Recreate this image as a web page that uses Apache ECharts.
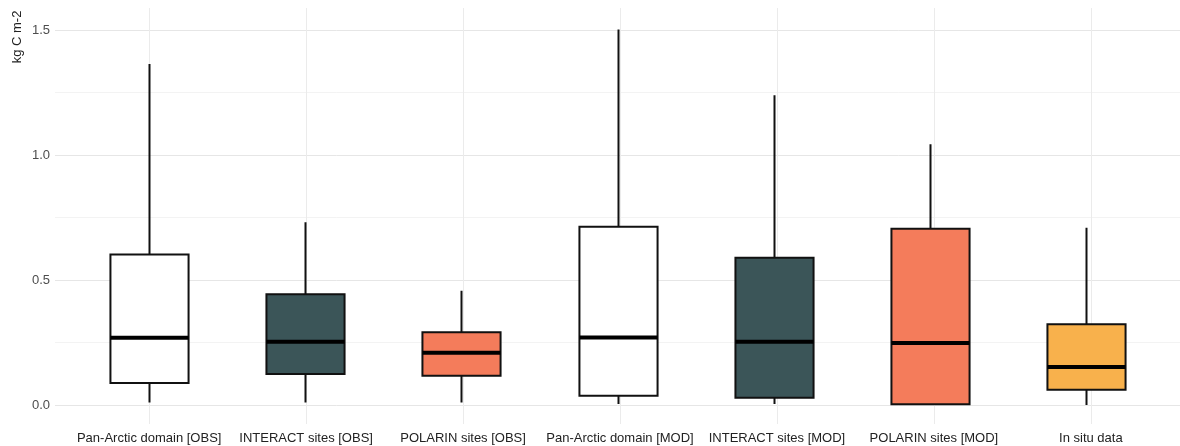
<!DOCTYPE html>
<html>
<head>
<meta charset="utf-8">
<script src="https://cdn.jsdelivr.net/npm/echarts@6/dist/echarts.min.js"></script>
<style>
  html, body { margin: 0; padding: 0; background: #fff; }
  #chart { width: 1180px; height: 446px; }
</style>
</head>
<body>
<div id="chart"></div>
<script>
// categories and box statistics (kg C m-2)
const categories = [
    'Pan-Arctic domain [OBS]',
    'INTERACT sites [OBS]',
    'POLARIN sites [OBS]',
    'Pan-Arctic domain [MOD]',
    'INTERACT sites [MOD]',
    'POLARIN sites [MOD]',
    'In situ data'
];
const mins    = [0.01, 0.01, 0.01, 0.004, 0.004, 0.0, 0.0];
const q1s     = [0.088, 0.124, 0.117, 0.037, 0.029, 0.003, 0.061];
const medians = [0.269, 0.253, 0.209, 0.27, 0.253, 0.248, 0.152];
const q3s     = [0.602, 0.443, 0.291, 0.713, 0.589, 0.705, 0.323];
const maxs    = [1.364, 0.731, 0.457, 1.502, 1.239, 1.043, 0.709];
const yTicks  = [0, 0.25, 0.5, 0.75, 1.0, 1.25, 1.5];

// fill colours per box
const fills = ['#ffffff', '#3b5558', '#f47c5b', '#ffffff', '#3b5558', '#f47c5b', '#f8b14c'];

const chart = echarts.init(document.getElementById('chart'));

const boxData = categories.map((c, i) => [i, mins[i], q1s[i], medians[i], q3s[i], maxs[i]]);

// 箱线图：须线无端帽，中位线加粗
function renderBox(params, api) {
    const i = api.value(0);
    const lo = api.coord([i, api.value(1)]);
    const q1 = api.coord([i, api.value(2)]);
    const md = api.coord([i, api.value(3)]);
    const q3 = api.coord([i, api.value(4)]);
    const hi = api.coord([i, api.value(5)]);
    const w = api.size([1, 0])[0] * 0.5;
    const x = Math.round(q1[0]) + 0.5;
    const stroke = '#111';
    return {
        type: 'group',
        children: [
            { type: 'line', shape: { x1: x, y1: hi[1], x2: x, y2: q3[1] }, style: { stroke: stroke, lineWidth: 2 } },
            { type: 'line', shape: { x1: x, y1: q1[1], x2: x, y2: lo[1] }, style: { stroke: stroke, lineWidth: 2 } },
            {
                type: 'rect',
                shape: { x: x - w / 2, y: q3[1], width: w, height: q1[1] - q3[1] },
                style: { fill: fills[params.dataIndex], stroke: stroke, lineWidth: 2 }
            },
            { type: 'line', shape: { x1: x - w / 2, y1: md[1], x2: x + w / 2, y2: md[1] }, style: { stroke: '#000', lineWidth: 4 } }
        ]
    };
}

const unit = 1130 / 7.2;

const option = {
    backgroundColor: '#fff',
    textStyle: { fontFamily: 'Liberation Sans, Arial, sans-serif' },
    grid: [
        { left: 55, width: 1130, top: 30, bottom: 41 },
        { left: 55 + 0.6 * unit, width: 6 * unit, top: 8, bottom: 22 }
    ],
    graphic: [{
        type: 'text',
        x: 17,
        y: 37,
        rotation: Math.PI / 2,
        style: {
            text: 'kg C m-2',
            fontSize: 13,
            fill: '#222',
            align: 'center',
            verticalAlign: 'middle',
            fontFamily: 'Liberation Sans, Arial, sans-serif'
        }
    }],
    xAxis: [
        { type: 'value', gridIndex: 0, min: -0.6, max: 6.6, show: false },
        {
            type: 'value', gridIndex: 1, min: 0, max: categories.length - 1, interval: 1,
            axisLine: { show: false },
            axisTick: { show: false },
            splitLine: { show: true, lineStyle: { color: '#ebebeb', width: 1 } },
            axisLabel: {
                margin: 8,
                fontSize: 13,
                color: '#222',
                formatter: v => categories[v] || ''
            }
        }
    ],
    yAxis: [
        {
            type: 'value', gridIndex: 0, min: yTicks[0], max: yTicks[yTicks.length - 1], interval: 0.25,
            axisLine: { show: false },
            axisTick: { show: false },
            splitLine: { show: true, lineStyle: { color: ['#e6e6e6', '#f3f3f3'], width: 1 } },
            axisLabel: {
                margin: 5,
                fontSize: 13,
                color: '#4d4d4d',
                formatter: v => (Math.abs(v * 2 - Math.round(v * 2)) < 1e-9 ? v.toFixed(1) : '')
            }
        },
        { type: 'value', gridIndex: 1, show: false, min: 0, max: 1 }
    ],
    series: [{
        type: 'custom',
        name: 'kg C m-2',
        xAxisIndex: 0,
        yAxisIndex: 0,
        renderItem: renderBox,
        encode: { x: 0, y: [1, 2, 3, 4, 5] },
        data: boxData,
        clip: false,
        silent: true
    }],
    animation: false
};

chart.setOption(option);

window.addEventListener('resize', function () {
    chart.resize();
});
</script>
</body>
</html>
